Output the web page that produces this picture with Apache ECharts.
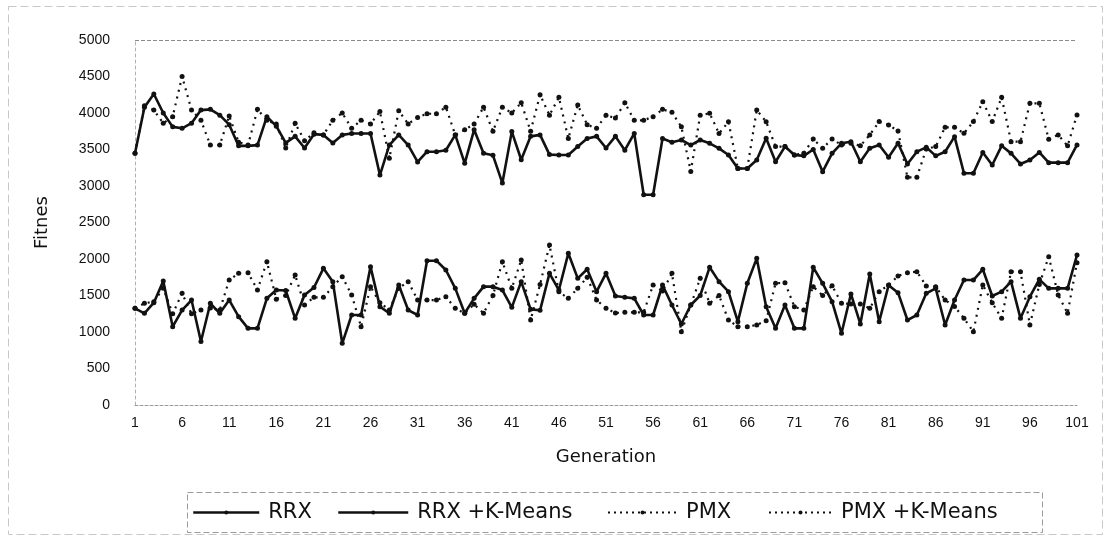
<!DOCTYPE html>
<html>
<head>
<meta charset="utf-8">
<script src="https://cdn.jsdelivr.net/npm/echarts@6/dist/echarts.min.js"></script>
<style>
html,body{margin:0;padding:0;background:#fff;}
#c{width:1104px;height:537px;}
</style>
</head>
<body>
<div id="c"></div>
<script>
var generations = [];
for (var g = 1; g <= 101; g++) generations.push(String(g));

var rrx = [3450,4080,4260,4000,3810,3790,3860,4040,4050,3970,
3840,3550,3550,3560,3950,3820,3590,3680,3520,3710,
3700,3590,3700,3720,3720,3720,3150,3560,3700,3560,
3330,3470,3470,3490,3700,3310,3770,3450,3420,3040,
3745,3360,3680,3700,3430,3425,3425,3540,3650,3680,
3520,3680,3490,3720,2880,2880,3650,3600,3630,3560,
3630,3585,3516,3425,3240,3240,3356,3653,3333,3540,
3425,3413,3500,3196,3447,3585,3607,3333,3516,3562,
3393,3585,3302,3470,3530,3413,3470,3676,3174,3174,
3460,3288,3550,3447,3302,3356,3460,3320,3320,3320,3562];

var pmx = [3450,4100,4040,3860,3950,4500,4040,3900,3560,3560,
3960,3600,3560,4050,3900,3850,3520,3860,3620,3730,
3700,3900,4000,3790,3900,3850,4020,3380,4030,3850,
3940,3990,3990,4080,3700,3770,3850,4080,3750,4080,
4000,4140,3750,4250,3970,4215,3650,4110,3840,3790,
3970,3930,4140,3900,3900,3950,4050,4010,3810,3200,
3970,3995,3720,3880,3240,3240,4040,3880,3540,3540,
3425,3450,3644,3516,3644,3562,3585,3550,3699,3882,
3836,3754,3119,3119,3507,3540,3804,3804,3722,3882,
4155,3882,4215,3607,3607,4133,4133,3640,3700,3550,3973];

var rrxKMeans = [1324,1256,1402,1700,1073,1300,1438,870,1393,1256,
1438,1210,1050,1050,1461,1575,1568,1187,1507,1610,
1872,1690,845,1233,1233,1895,1347,1256,1644,1301,
1233,1977,1977,1849,1598,1256,1461,1621,1621,1575,
1338,1690,1310,1297,1804,1575,2078,1735,1859,1553,
1804,1493,1475,1461,1233,1233,1644,1370,1110,1370,
1500,1886,1690,1553,1142,1667,2009,1347,1050,1370,
1050,1050,1886,1667,1416,982,1521,1110,1795,1142,
1640,1539,1164,1233,1530,1598,1096,1438,1712,1712,
1859,1493,1553,1690,1187,1484,1721,1598,1598,1598,2055];

var pmxKMeans = [1324,1393,1415,1600,1250,1530,1250,1300,1330,1300,
1712,1804,1812,1575,1964,1450,1500,1780,1370,1475,
1475,1621,1758,1507,1073,1621,1400,1301,1600,1690,
1438,1438,1438,1484,1324,1256,1380,1256,1500,1964,
1598,1986,1164,1650,2192,1550,1461,1598,1750,1438,
1324,1260,1269,1269,1270,1644,1560,1804,1004,1370,
1735,1393,1500,1164,1073,1073,1096,1155,1667,1675,
1347,1300,1621,1500,1635,1393,1384,1384,1324,1553,
1644,1767,1813,1826,1630,1621,1438,1350,1187,1004,
1644,1400,1187,1826,1826,1096,1650,2032,1507,1256,1950];

var seriesNames = ['RRX', 'RRX +K-Means', 'PMX', 'PMX +K-Means'];

var chart = echarts.init(document.getElementById('c'), null, {renderer: 'canvas'});
var FONT = 'Liberation Sans, Arial, sans-serif';
var LFONT = 'DejaVu Sans, sans-serif';
var INK = '#111';

function mk(name, data, solid) {
  return {
    name: name,
    type: 'line',
    data: data,
    symbol: 'circle',
    symbolSize: 5,
    showSymbol: true,
    itemStyle: {color: INK},
    lineStyle: {color: INK, width: solid ? 2.6 : 2.2, type: solid ? 'solid' : [2, 5]},
    animation: false
  };
}

function lg(name, left, w, solid) {
  return {
    data: [name],
    left: left,
    top: 502,
    padding: 0,
    itemWidth: w,
    itemHeight: 5,
    itemGap: 0,
    lineStyle: {width: solid ? 2.5 : 2, type: solid ? 'solid' : [2, 4]},
    textStyle: {fontFamily: LFONT, fontSize: 21, color: INK, padding: [0, 0, 0, 4]}
  };
}

chart.setOption({
  backgroundColor: '#fff',
  animation: false,
  grid: {left: 135, right: 27, top: 40, bottom: 132, containLabel: false},
  legend: [
    lg(seriesNames[0], 192, 66, true),
    lg(seriesNames[1], 337, 70, true),
    lg(seriesNames[2], 607, 69, false),
    lg(seriesNames[3], 768, 63, false)
  ],
  xAxis: {
    type: 'category',
    data: generations,
    boundaryGap: false,
    axisLine: {show: true, lineStyle: {color: '#9a9a9a', width: 1, type: [3, 2]}},
    axisTick: {show: false},
    axisLabel: {interval: 4, margin: 11, fontFamily: FONT, fontSize: 14, color: INK},
    name: 'Generation',
    nameLocation: 'middle',
    nameGap: 43,
    nameTextStyle: {fontFamily: LFONT, fontSize: 18, color: INK}
  },
  yAxis: {
    type: 'value',
    min: 0,
    max: 5000,
    interval: 500,
    axisLine: {show: true, lineStyle: {color: '#b0b0b0', width: 1, type: [3, 3]}},
    axisTick: {show: false},
    axisLabel: {margin: 25, fontFamily: FONT, fontSize: 14, color: INK,
      formatter: function (v) { return String(v); }},
    splitLine: {show: true, lineStyle: {color: ['transparent','transparent','transparent','transparent','transparent','transparent','transparent','transparent','transparent','transparent','#8a8a8a'], width: 1, type: [4, 2]}},
    name: 'Fitnes',
    nameLocation: 'middle',
    nameGap: 84,
    nameTextStyle: {fontFamily: LFONT, fontSize: 18, color: INK}
  },
  graphic: [
    {type: 'rect', left: 185, top: 490, shape: {width: 855, height: 40},
     style: {fill: 'none', stroke: '#9a9a9a', lineWidth: 1, lineDash: [6, 3]}, silent: true, z: -1},
    {type: 'rect', left: 6, top: 4, shape: {width: 1094, height: 528},
     style: {fill: 'none', stroke: '#c8c8c8', lineWidth: 1, lineDash: [8, 4]}, silent: true, z: -1}
  ],
  series: [
    mk(seriesNames[0], rrx, true),
    mk(seriesNames[1], rrxKMeans, true),
    mk(seriesNames[2], pmx, false),
    mk(seriesNames[3], pmxKMeans, false)
  ]
});
</script>
</body>
</html>
